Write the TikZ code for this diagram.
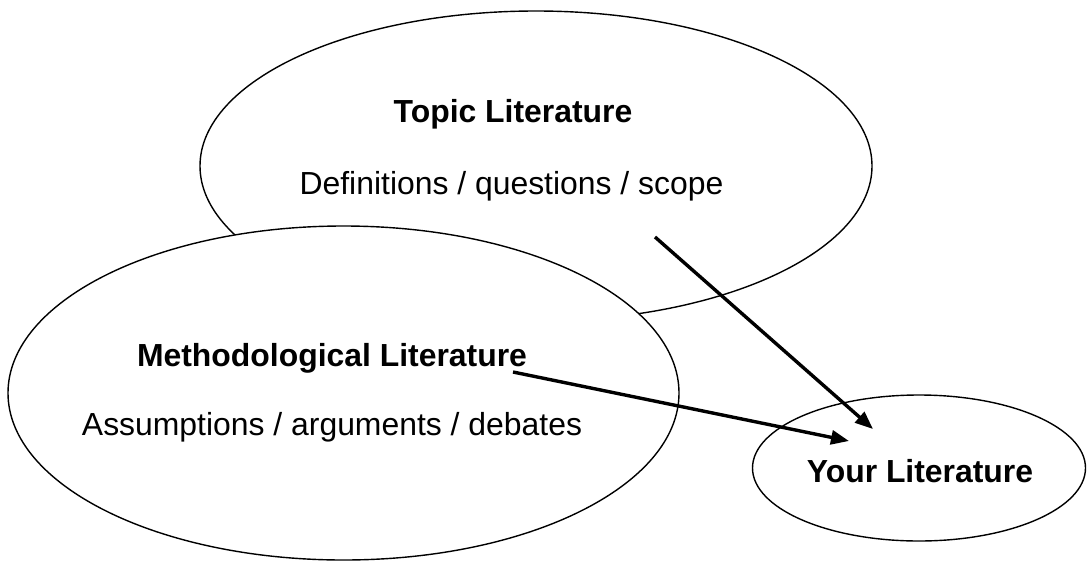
\documentclass[tikz,border=0pt]{standalone}
\usepackage{fontspec}
\setmainfont{Liberation Sans}
\usetikzlibrary{shapes.geometric,arrows.meta}
\begin{document}
\begin{tikzpicture}[x=1pt,y=-1pt,
  bub/.style={draw=black, ellipse, line width=1.4pt, inner sep=0pt, outer sep=0pt, fill=white},
  head/.style={font=\fontsize{31.9}{38}\selectfont\bfseries, anchor=base, inner sep=0pt},
  sub/.style={font=\fontsize{31.9}{38}\selectfont, anchor=base, inner sep=0pt},
  conn/.style={line width=3.4pt, -{Triangle[length=18pt,width=14pt]}}]
\useasboundingbox (0,0) rectangle (1087,563);
\fill[white] (0,0) rectangle (1087,563);
% ellipses
\node[bub, minimum width=672pt, minimum height=310pt] (topic) at (536,166) {};
\node[bub, minimum width=671pt, minimum height=334pt] (method) at (343.5,393) {};
\node[bub, minimum width=333pt, minimum height=146pt] (your) at (919,468) {};
% texts
\node[head] (topict) at (513,122) {Topic Literature};
\node[sub] (topics) at (511.5,194) {Definitions / questions / scope};
\node[head] (methodt) at (332,366) {Methodological Literature};
\node[sub] (methods) at (332,435) {Assumptions / arguments / debates};
\node[head] (yourt) at (920,482) {Your Literature};
% connectors
\coordinate (a1s) at (655,237);
\coordinate (a1e) at (873,429);
\coordinate (a2s) at (513,372);
\coordinate (a2e) at (849,441);
\draw[conn] (a1s) -- (a1e);
\draw[conn] (a2s) -- (a2e);
\end{tikzpicture}
\end{document}
